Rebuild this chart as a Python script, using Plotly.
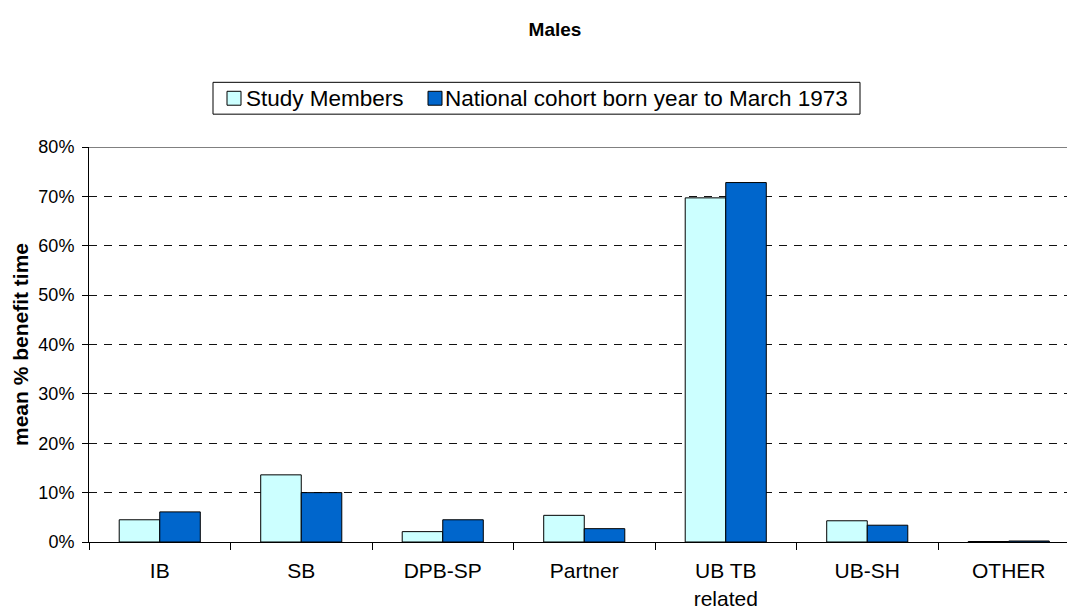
import plotly.graph_objects as go

categories = ["IB", "SB", "DPB-SP", "Partner", "UB TB<br>related", "UB-SH", "OTHER"]
study_members = [0.045, 0.136, 0.021, 0.054, 0.697, 0.043, 0.001]
national_cohort = [0.061, 0.100, 0.045, 0.027, 0.728, 0.034, 0.002]
series_names = ["Study Members", "National cohort born year to March 1973"]
series_colors = ["#CCFFFF", "#0066CC"]
y_ticks = [0, 0.1, 0.2, 0.3, 0.4, 0.5, 0.6, 0.7, 0.8]
y_tick_text = ["0%", "10%", "20%", "30%", "40%", "50%", "60%", "70%", "80%"]

FONT = "Liberation Sans, Arial, sans-serif"
W, H = 1067, 610
ML, MT, MB = 89, 147, 66
PW, PH = W - ML, H - MT - MB


def px_x(page_x):
    return (page_x - ML) / PW


def px_y(page_y):
    return (H - MB - page_y) / PH


fig = go.Figure()
for name, vals, col in zip(series_names, [study_members, national_cohort], series_colors):
    fig.add_trace(go.Bar(
        x=categories, y=vals, name=name, showlegend=False,
        marker=dict(color=col, line=dict(color="#000000", width=1)),
    ))

fig.update_layout(
    width=W, height=H,
    margin=dict(l=ML, r=0, t=MT, b=MB),
    paper_bgcolor="white", plot_bgcolor="white",
    barmode="group", bargap=0.427, bargroupgap=0,
    font=dict(family=FONT, size=20, color="black"),
    title=dict(text="<b>Males</b>", x=555 / W, xref="container", xanchor="center",
               y=1 - 29 / H, yref="container", yanchor="middle",
               font=dict(family=FONT, size=19, color="black")),
    showlegend=False,
)
fig.update_xaxes(
    type="category", range=[-0.5, (PW / 141.5) - 0.5],
    showline=True, linecolor="black", linewidth=1,
    ticks="outside", tickson="boundaries", ticklen=7, tickcolor="black",
    ticklabelstandoff=10,
    showgrid=False, tickfont=dict(family=FONT, size=21, color="black"),
)
fig.update_yaxes(
    range=[0, 0.8], tickvals=y_ticks, ticktext=y_tick_text,
    showline=True, linecolor="black", linewidth=1,
    ticks="outside", ticklen=6, tickcolor="black",
    ticklabelstandoff=4,
    showgrid=True, gridcolor="#111111", gridwidth=1, griddash="8px,7px",
    zeroline=False,
    tickfont=dict(family=FONT, size=18, color="black"),
    title=dict(text="<b>mean % benefit time</b>", font=dict(family=FONT, size=21, color="black"), standoff=4),
)
# top border line of plot area (solid grey)
fig.add_shape(type="line", xref="paper", yref="y", x0=0, x1=1, y0=0.8, y1=0.8,
              line=dict(color="#808080", width=2), layer="above")

# legend box (drawn manually for Excel-like compact layout)
box_top, box_bot = 82, 114
mid = (box_top + box_bot) / 2
fig.add_shape(type="rect", xref="paper", yref="paper",
              x0=px_x(213), x1=px_x(860), y0=px_y(box_bot), y1=px_y(box_top),
              line=dict(color="black", width=1), fillcolor="white")
for sx, tx, name, col in zip([227, 428], [245, 444], series_names, series_colors):
    fig.add_shape(type="rect", xref="paper", yref="paper",
                  x0=px_x(sx), x1=px_x(sx + 14), y0=px_y(mid + 7), y1=px_y(mid - 7),
                  line=dict(color="black", width=1), fillcolor=col)
    fig.add_annotation(text=name, xref="paper", yref="paper",
                       x=px_x(tx), y=px_y(mid), xanchor="left", yanchor="middle",
                       showarrow=False, borderpad=0,
                       font=dict(family=FONT, size=22.5, color="black"))

fig.write_html("out.html", config={"displayModeBar": False},
               post_script="document.body.style.margin='0px';document.body.style.overflow='hidden';")
